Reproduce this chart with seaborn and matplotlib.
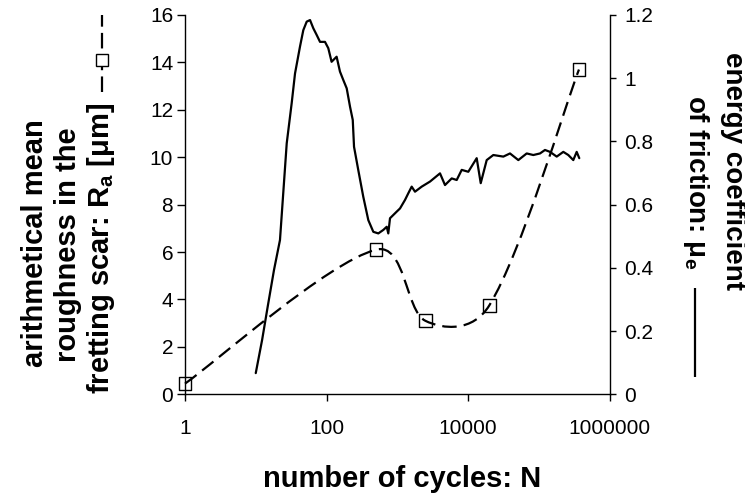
import numpy as np
import pandas as pd
import matplotlib
matplotlib.use("Agg")
import matplotlib.pyplot as plt
import seaborn as sns
from matplotlib.path import Path
from matplotlib.patches import PathPatch
from matplotlib.lines import Line2D

# ---------------- data ----------------
# roughness Ra [um] (dashed line with squares, left axis)
cycles_ra = [1, 500, 2500, 20000, 370000]
ra_values = [0.45, 6.1, 3.1, 3.75, 13.7]

# energy coefficient of friction mu_e (solid line, right axis)
cycles_mu = [10, 12.3, 14.9, 18.1, 22.0, 27.4, 32.2, 35.9, 42.2, 47.0,
             52.5, 58.5, 65.1, 72.6, 81.0, 95.2, 106, 118, 139, 155,
             173, 193, 215, 235, 245, 281, 331, 390, 459, 540,
             635, 710, 747, 790, 983, 1094, 1288, 1433, 1600, 1782,
             2217, 2904, 4021, 4730, 5885, 6925, 8150, 10100, 13270, 15130,
             18380, 22790, 31580, 39230, 51440, 67550, 83790, 104200, 122500, 144200,
             179400, 222400, 261700, 307800, 343700, 374000]
mu_values = [0.067, 0.172, 0.283, 0.393, 0.488, 0.794, 0.921, 1.015, 1.100, 1.152,
             1.179, 1.184, 1.158, 1.137, 1.115, 1.115, 1.095, 1.052, 1.068, 1.021,
             0.994, 0.968, 0.910, 0.868, 0.783, 0.710, 0.625, 0.551, 0.514, 0.509,
             0.520, 0.530, 0.509, 0.557, 0.578, 0.588, 0.615, 0.636, 0.657, 0.641,
             0.657, 0.673, 0.699, 0.662, 0.683, 0.678, 0.710, 0.704, 0.747, 0.668,
             0.741, 0.757, 0.752, 0.762, 0.741, 0.762, 0.757, 0.762, 0.773, 0.767,
             0.752, 0.767, 0.757, 0.741, 0.767, 0.747]

x_ticks = [1, 100, 10000, 1000000]
x_tick_labels = ["1", "100", "10000", "1000000"]
left_ticks = [0, 2, 4, 6, 8, 10, 12, 14, 16]
right_ticks = [0, 0.2, 0.4, 0.6, 0.8, 1.0, 1.2]
right_tick_labels = ["0", "0.2", "0.4", "0.6", "0.8", "1", "1.2"]

# ---------------- style ----------------
sns.set_style("ticks")
plt.rcParams["font.family"] = ["Liberation Sans", "DejaVu Sans"]
plt.rcParams["mathtext.fontset"] = "custom"
plt.rcParams["mathtext.rm"] = "Liberation Sans"
plt.rcParams["mathtext.bf"] = "Liberation Sans:bold"
plt.rcParams["mathtext.it"] = "Liberation Sans:italic"
for key in ("text.color", "axes.labelcolor", "xtick.color", "ytick.color", "axes.edgecolor"):
    plt.rcParams[key] = "black"

W, H = 745, 495
fig = plt.figure(figsize=(W / 100, H / 100), dpi=100)
ax_left, ax_right, ax_top, ax_bottom = 185, 609.5, 15, 394.3
ax = fig.add_axes([ax_left / W, 1 - ax_bottom / H, (ax_right - ax_left) / W, (ax_bottom - ax_top) / H])
ax2 = ax.twinx()

ra_df = pd.DataFrame({"N": cycles_ra, "Ra": ra_values})
mu_df = pd.DataFrame({"N": cycles_mu, "mu": mu_values})

ax.set_xscale("log")
ax.set_xlim(1, 1e6)
ax.set_ylim(0, 16)
ax2.set_ylim(0, 1.2)

# smoothed dashed line: Bezier segments in (log N, Ra) space, like a spreadsheet "smoothed line"
P = np.column_stack([np.log10(ra_df["N"].to_numpy(float)), ra_df["Ra"].to_numpy(float)])
n = len(P)
sx = (ax_right - ax_left) / 6.0     # px per decade
sy = (ax_bottom - ax_top) / 16.0    # px per Ra unit
def seg_len(a, b):
    return np.hypot((b[0] - a[0]) * sx, (b[1] - a[1]) * sy)
d = [seg_len(P[i], P[i + 1]) for i in range(n - 1)]
k = 1.0 / 6.0
verts = [P[0]]
codes = [Path.MOVETO]
for i in range(n - 1):
    p_prev = P[max(i - 1, 0)]
    p_next2 = P[min(i + 2, n - 1)]
    w1 = 1.0 if i == 0 else np.sqrt(2 * d[i] / (d[i - 1] + d[i]))
    w2 = 1.0 if i == n - 2 else np.sqrt(2 * d[i] / (d[i] + d[i + 1]))
    c1 = P[i] + (P[i + 1] - p_prev) * k * w1
    c2 = P[i + 1] - (p_next2 - P[i]) * k * w2
    verts += [c1, c2, P[i + 1]]
    codes += [Path.CURVE4] * 3
verts = np.array(verts)
verts[:, 0] = 10 ** verts[:, 0]
patch = PathPatch(Path(verts, codes), fill=False, edgecolor="black", lw=1.6,
                  linestyle=(0, (6.5, 3.2)), capstyle="butt", transform=ax.transData,
                  clip_on=False)
ax.add_patch(patch)

sns.scatterplot(data=ra_df, x="N", y="Ra", ax=ax, marker="s", s=85,
                facecolor="none", edgecolor="black", linewidth=1.0, zorder=3, clip_on=False)
ax.collections[-1].set_facecolor("none")

sns.lineplot(data=mu_df, x="N", y="mu", ax=ax2, color="black", lw=1.6,
             sort=False, estimator=None)

# axes formatting
ax.set_xticks(x_ticks)
ax.set_xticklabels(x_tick_labels)
ax.xaxis.set_minor_locator(matplotlib.ticker.NullLocator())
ax.set_yticks(left_ticks)
ax.set_yticklabels([str(v) for v in left_ticks])
ax2.set_yticks(right_ticks)
ax2.set_yticklabels(right_tick_labels)
ax.set_xlabel("")
ax.set_ylabel("")
ax2.set_xlabel("")
ax2.set_ylabel("")

for a in (ax, ax2):
    a.spines["top"].set_visible(False)
    for s in a.spines.values():
        s.set_linewidth(1.0)
        s.set_color("black")
ax.spines["right"].set_visible(False)
ax2.spines["left"].set_visible(False)
ax2.spines["bottom"].set_visible(False)

ax.tick_params(axis="x", which="major", direction="out", length=5, width=1,
               pad=13, labelsize=15, colors="black")
ax.tick_params(axis="y", direction="out", length=5.5, width=1, pad=3,
               labelsize=15, colors="black")
ax2.tick_params(axis="y", direction="out", length=4.5, width=1, pad=6,
                labelsize=15, colors="black")

# ---------------- titles ----------------
fs_left = 21
fs_right = 20
def fx(px):
    return px / W
def fy(py):
    return 1 - py / H

fig.text(fx(43), fy(243), "arithmetical mean", rotation=90, rotation_mode="anchor",
         ha="center", va="baseline", fontsize=fs_left, fontweight="bold", color="black")
fig.text(fx(76), fy(245), "roughness in the", rotation=90, rotation_mode="anchor",
         ha="center", va="baseline", fontsize=fs_left, fontweight="bold", color="black")
fig.text(fx(109), fy(248), r"fretting scar: R$_\mathbf{a}$ [μm]", rotation=90,
         rotation_mode="anchor", ha="center", va="baseline", fontsize=fs_left,
         fontweight="bold", color="black")
# legend glyph for the dashed series inside the left title
fig.add_artist(Line2D([fx(101.5), fx(101.5)], [fy(92), fy(15)], transform=fig.transFigure,
                      color="black", lw=1.6, linestyle=(0, (7, 2.8)), solid_capstyle="butt",
                      dash_capstyle="butt"))
fig.add_artist(Line2D([fx(101.5)], [fy(60)], transform=fig.transFigure, marker="s",
                      markersize=9, markerfacecolor="white", markeredgecolor="black",
                      markeredgewidth=1.0, linestyle="none"))

fig.text(fx(726), fy(171.5), "energy coefficient", rotation=-90, rotation_mode="anchor",
         ha="center", va="baseline", fontsize=fs_right, fontweight="bold", color="black")
fig.text(fx(689), fy(182.5), r"of friction: μ$_\mathbf{e}$", rotation=-90,
         rotation_mode="anchor", ha="center", va="baseline", fontsize=fs_right,
         fontweight="bold", color="black")
fig.add_artist(Line2D([fx(695), fx(695)], [fy(288), fy(377)], transform=fig.transFigure,
                      color="black", lw=1.6, solid_capstyle="butt"))

fig.text(fx(402.5), fy(487), "number of cycles: N", ha="center", va="baseline",
         fontsize=fs_left, fontweight="bold", color="black")

fig.savefig("out.png", dpi=100)
